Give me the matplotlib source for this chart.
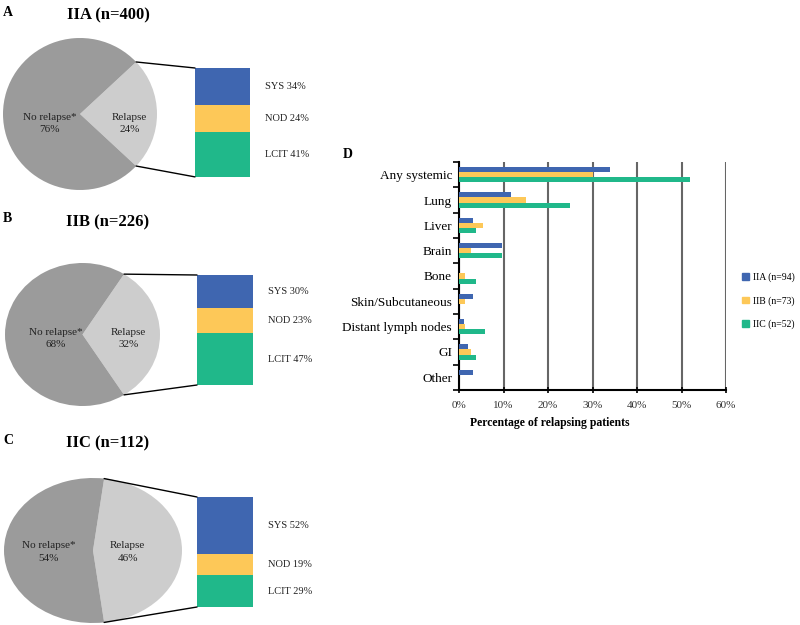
import numpy as np
import matplotlib

matplotlib.use("Agg")
import matplotlib.pyplot as plt
from matplotlib.patches import ConnectionPatch, Patch

plt.rcParams['font.family'] = ['Liberation Serif', 'DejaVu Serif']

# pie panels (A-C)
stages = ['IIA', 'IIB', 'IIC']
n_total = [400, 226, 112]
relapse_pct = [24, 32, 46]
no_relapse_pct = [76, 68, 54]
sys_pct = [34, 30, 52]
nod_pct = [24, 23, 19]
lcit_pct = [41, 47, 29]

# bar panel (D)
sites = ['Any systemic', 'Lung', 'Liver', 'Brain', 'Bone', 'Skin/Subcutaneous',
         'Distant lymph nodes', 'GI', 'Other']
iia_pct = [34.0, 11.7, 3.2, 9.6, 0, 3.2, 1.1, 2.1, 3.2]
iib_pct = [30.1, 15.1, 5.5, 2.7, 1.4, 1.4, 1.4, 2.7, 0]
iic_pct = [51.9, 25.0, 3.8, 9.6, 3.8, 0, 5.8, 3.8, 0]
legend_labels = ['IIA (n=94)', 'IIB (n=73)', 'IIC (n=52)']

C_BLUE = '#3f66b0'
C_YELLOW = '#fdc858'
C_GREEN = '#20b88a'
C_DARK = '#9b9b9b'
C_LIGHT = '#cdcdcd'

W, H = 800, 625
fig = plt.figure(figsize=(8, 6.25), dpi=100)


def px_axes(x0, y0, x1, y1):
    return fig.add_axes([x0 / W, 1 - y1 / H, (x1 - x0) / W, (y1 - y0) / H])


def px_text(x, y, s, **kw):
    fig.text(x / W, 1 - y / H, s, **kw)


# layout in pixels: pie box, bar box, title y, letter, label offsets
layout = [
    dict(pie=(3, 38, 157, 190), bar=(195, 68, 250), title_y=15, letter='A',
         nr_x=-0.39, r_x=0.64, lab_y=-0.12),
    dict(pie=(5, 263, 160, 406), bar=(197, 275, 253), title_y=222, letter='B',
         nr_x=-0.35, r_x=0.59, lab_y=-0.06),
    dict(pie=(4, 478, 182, 623), bar=(197, 497, 253), title_y=443, letter='C',
         nr_x=-0.50, r_x=0.39, lab_y=-0.02),
]

for i, lay in enumerate(layout):
    x0, y0, x1, y1 = lay['pie']
    pax = px_axes(x0, y0, x1, y1)
    ang = relapse_pct[i] * 3.6 / 2
    pax.pie([relapse_pct[i], no_relapse_pct[i]], colors=[C_LIGHT, C_DARK],
            startangle=-ang, counterclock=True, radius=1,
            wedgeprops=dict(linewidth=0))
    pax.set_aspect('auto')
    pax.set_xlim(-1, 1)
    pax.set_ylim(-1, 1)
    pax.text(lay['nr_x'], lay['lab_y'], 'No relapse*\n%d%%' % no_relapse_pct[i],
             ha='center', va='center', fontsize=8, color='#222222', linespacing=1.45)
    pax.text(lay['r_x'], lay['lab_y'], 'Relapse\n%d%%' % relapse_pct[i],
             ha='center', va='center', fontsize=8, color='#222222', linespacing=1.45)

    # stacked bar of relapse types
    bx0, by0, bx1 = lay['bar']
    parts = [lcit_pct[i], nod_pct[i], sys_pct[i]]
    names = ['LCIT', 'NOD', 'SYS']
    cols = [C_GREEN, C_YELLOW, C_BLUE]
    total = sum(parts)
    bax = px_axes(bx0, by0, bx1, by0 + total * 1.1)
    bottoms = np.cumsum([0] + parts[:-1])
    bax.bar([0.5] * 3, parts, width=1, bottom=bottoms, color=cols, linewidth=0)
    bax.set_xlim(0, 1)
    bax.set_ylim(0, total)
    bax.axis('off')
    for b, p, nm in zip(bottoms, parts, names):
        bax.text(1.27, b + p / 2, '%s %d%%' % (nm, p), transform=bax.transData,
                 ha='left', va='center', fontsize=7.5, color='#222222')

    # connector lines from the relapse slice to the bar
    a = np.deg2rad(ang)
    for sgn, yb in [(1, total), (-1, 0)]:
        con = ConnectionPatch(xyA=(np.cos(a), sgn * np.sin(a)), coordsA=pax.transData,
                              xyB=(0, yb), coordsB=bax.transData, color='black', lw=1)
        fig.add_artist(con)

    px_text(108, lay['title_y'], '%s (n=%d)' % (stages[i], n_total[i]),
            ha='center', va='center', fontsize=12, fontweight='bold')
    px_text(3, lay['title_y'] - 3, lay['letter'], ha='left', va='center',
            fontsize=10, fontweight='bold')

# panel D
ax = px_axes(459, 162, 726, 390)
y = np.arange(len(sites))
h = 0.2
ax.barh(y - h, iia_pct, height=h, color=C_BLUE, zorder=3)
ax.barh(y, iib_pct, height=h, color=C_YELLOW, zorder=3)
ax.barh(y + h, iic_pct, height=h, color=C_GREEN, zorder=3)
ax.set_ylim(len(sites) - 0.5, -0.5)
ax.set_xlim(0, 60)
ax.set_xticks(np.arange(0, 61, 10))
ax.set_xticklabels(['%d%%' % v for v in range(0, 61, 10)], fontsize=8, color='#333333')
ax.set_yticks(y)
ax.set_yticklabels(sites, fontsize=9.5)
ax.set_yticks(np.arange(-0.5, len(sites), 1), minor=True)
ax.tick_params(axis='y', which='major', length=0, pad=5)
ax.tick_params(axis='y', which='minor', length=4, width=1.2, direction='out')
ax.tick_params(axis='x', length=4, width=1.2, direction='inout', pad=6)
ax.grid(axis='x', color='#666666', lw=1.5, zorder=1)
for s in ['top', 'right']:
    ax.spines[s].set_visible(False)
ax.spines['left'].set_linewidth(1.5)
ax.spines['bottom'].set_linewidth(1.5)
ax.set_xlabel('Percentage of relapsing patients', fontsize=8.5, fontweight='bold')
ax.xaxis.set_label_coords((550 - 459) / (726 - 459), -0.12)
px_text(343, 155, 'D', ha='left', va='center', fontsize=10, fontweight='bold')

handles = [Patch(color=c) for c in [C_BLUE, C_YELLOW, C_GREEN]]
fig.legend(handles, legend_labels, loc='upper left', bbox_to_anchor=(733 / W, 1 - 264 / H),
           frameon=False, fontsize=7, handlelength=0.7, handleheight=0.7,
           handletextpad=0.5, labelspacing=1.4)

fig.savefig('out.png', dpi=100)
